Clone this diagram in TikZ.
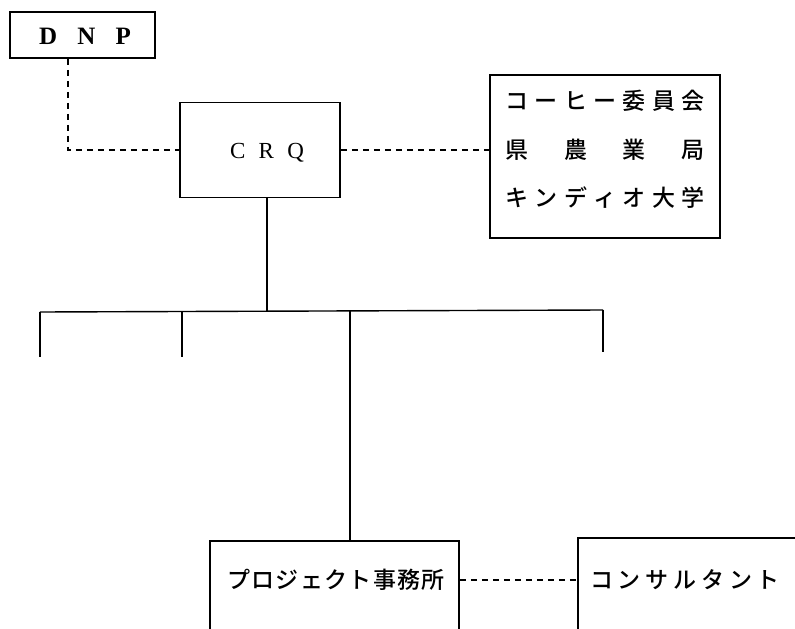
\documentclass[tikz,border=0pt]{standalone}
\usepackage{fontspec}
\newfontfamily\cjk{Noto Sans CJK JP}[BoldFont={Noto Sans CJK JP Medium}]
\newfontfamily\serifl{Liberation Serif}
\newcommand{\spread}[2]{\makebox[#1][s]{#2}}
\begin{document}
\begin{tikzpicture}[x=1pt,y=-1pt,
  box/.style={draw,line width=1.8pt,inner sep=0pt},
  link/.style={line width=1.4pt},
  dlink/.style={line width=1.4pt,dash pattern=on 6pt off 5pt},
  jp/.style={font=\cjk\bfseries\fontsize{23}{23}\selectfont,inner sep=0pt},
  lat/.style={inner sep=0pt}]
\useasboundingbox (0,0) rectangle (795,629);
\clip (0,0) rectangle (795,629);
\fill[white] (0,0) rectangle (795,629);
% boxes
\node[box,minimum width=145pt,minimum height=46pt] (dnp) at (82.5,35) {};
\node[lat,font=\serifl\fontsize{25}{25}\selectfont\bfseries] (dnpt) at (85,36) {\spread{92pt}{D\hfill N\hfill P}};
\node[box,minimum width=160pt,minimum height=95pt] (crq) at (260,150) {};
\node[lat,font=\serifl\fontsize{23}{23}\selectfont] (crqt) at (267,153) {\spread{74pt}{C\hfill R\hfill Q}};
\node[box,minimum width=230pt,minimum height=163pt] (org) at (605,156.5) {};
\node[jp] (o1) at (605,101) {\spread{200pt}{コ\hfill ー\hfill ヒ\hfill ー\hfill 委\hfill 員\hfill 会}};
\node[jp] (o2) at (605,150) {\spread{200pt}{県\hfill 農\hfill 業\hfill 局}};
\node[jp] (o3) at (605,198) {\spread{200pt}{キ\hfill ン\hfill デ\hfill ィ\hfill オ\hfill 大\hfill 学}};
\node[box,minimum width=249pt,minimum height=110pt,anchor=north] (proj) at (334.5,540) {};
\node[jp] (projt) at (336,580) {\spread{217pt}{プ\hfill ロ\hfill ジ\hfill ェ\hfill ク\hfill ト\hfill 事\hfill 務\hfill 所}};
\node[box,minimum width=240pt,minimum height=110pt,anchor=north west] (cons) at (577,537) {};
\node[jp] (const) at (685,580) {\spread{190pt}{コ\hfill ン\hfill サ\hfill ル\hfill タ\hfill ン\hfill ト}};
% coordinates
\coordinate (dnpx) at (68,0);
\coordinate (stem) at (267,0);
\coordinate (busl) at (40,312);
\coordinate (bus2) at (182,312);
\coordinate (busm) at (350,311);
\coordinate (busr) at (603,310);
\coordinate (e1) at (40,357);
\coordinate (e2) at (182,357);
\coordinate (e4) at (603,352);
% connectors
\draw[dlink] (dnp.south -| dnpx) |- (crq.west);
\draw[dlink] (crq.east) -- (org.west |- crq.east);
\draw[link] (crq.south -| stem) -- (stem |- busm);
\draw[link] (busl) -- (busr);
\draw[link] (busl) -- (e1);
\draw[link] (bus2) -- (e2);
\draw[link] (busr) -- (e4);
\draw[link] (busm) -- (proj.north -| busm);
\draw[dlink] (proj.east |- projt) -- (cons.west |- projt);
\end{tikzpicture}
\end{document}
